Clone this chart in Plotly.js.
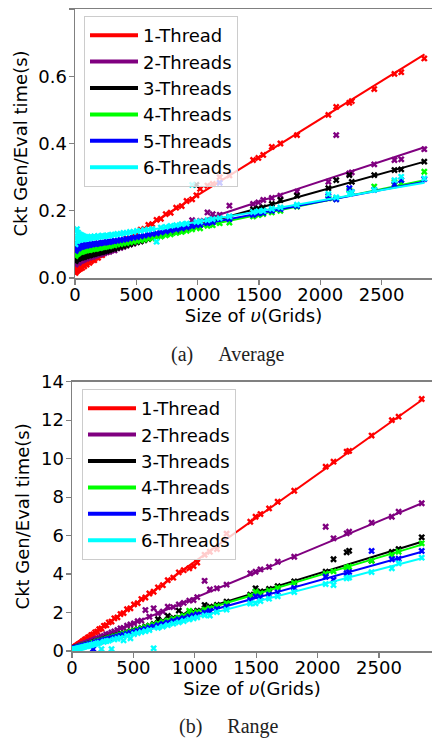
<!DOCTYPE html>
<html>
<head>
<meta charset="utf-8">
<script src="https://cdn.plot.ly/plotly-3.0.1.min.js"></script>
<style>html,body{margin:0;padding:0;background:#fff}#chart{width:432px;height:740px}</style>
</head>
<body>
<div id="chart"></div>
<script>
// Shared circuit sizes (Size of v in grids)
const gridSizes = [4, 8, 12, 16, 20, 25, 30, 36, 42, 50, 58, 66, 75, 85, 95, 106, 118, 130, 143, 157,
  172, 188, 205, 222, 240, 260, 280, 300, 322, 345, 370, 395, 420, 448, 476, 505, 535, 565, 598, 630,
  665, 700, 740, 780, 825, 870, 910, 955,
  990, 1020, 1080, 1123, 1180, 1259, 1452, 1495, 1535, 1605, 1675, 1810, 2066, 2130, 2237, 2257, 2440, 2605, 2660, 2848];

const seriesNames = ['1-Thread', '2-Threads', '3-Threads', '4-Threads', '5-Threads', '6-Threads'];

// (a) Average time (s)
const avg1 = [0.015, 0.03, 0.02, 0.035, 0.022, 0.03, 0.025, 0.033, 0.027, 0.034, 0.03, 0.038, 0.035, 0.042, 0.04, 0.047, 0.045, 0.05, 0.054, 0.053,
  0.061, 0.06, 0.068, 0.068, 0.077, 0.077, 0.086, 0.086, 0.095, 0.096, 0.107, 0.106, 0.118, 0.119, 0.131, 0.132, 0.144, 0.146, 0.158, 0.16,
  0.173, 0.176, 0.19, 0.194, 0.209, 0.214, 0.229, 0.234,
  0.246, 0.265, 0.275, 0.28, 0.30, 0.305, 0.351, 0.357, 0.366, 0.39, 0.40, 0.425, 0.485, 0.509, 0.521, 0.526, 0.562, 0.607, 0.612, 0.653];
const avg2 = [0.04, 0.052, 0.045, 0.055, 0.048, 0.05, 0.045, 0.056, 0.05, 0.055, 0.052, 0.058, 0.055, 0.06, 0.058, 0.062, 0.061, 0.064, 0.063, 0.066,
  0.067, 0.07, 0.07, 0.073, 0.074, 0.077, 0.078, 0.082, 0.082, 0.088, 0.09, 0.093, 0.096, 0.1, 0.102, 0.108, 0.109, 0.115, 0.118, 0.121,
  0.126, 0.131, 0.136, 0.141, 0.146, 0.152, 0.156, 0.172,
  0.165, 0.17, 0.195, 0.19, 0.188, 0.215, 0.22, 0.225, 0.232, 0.238, 0.245, 0.257, 0.286, 0.425, 0.311, 0.314, 0.338, 0.351, 0.353, 0.383];
const avg3 = [0.05, 0.06, 0.055, 0.062, 0.058, 0.06, 0.057, 0.063, 0.06, 0.062, 0.061, 0.064, 0.062, 0.066, 0.065, 0.067, 0.067, 0.069, 0.07, 0.071,
  0.073, 0.074, 0.076, 0.077, 0.079, 0.081, 0.083, 0.086, 0.087, 0.09, 0.093, 0.095, 0.098, 0.1, 0.104, 0.106, 0.109, 0.112, 0.116, 0.119,
  0.123, 0.126, 0.13, 0.134, 0.139, 0.143, 0.147, 0.152,
  0.277, 0.158, 0.166, 0.17, 0.176, 0.182, 0.204, 0.207, 0.21, 0.22, 0.232, 0.245, 0.267, 0.291, 0.306, 0.286, 0.306, 0.321, 0.323, 0.346];
const avg4 = [0.065, 0.078, 0.07, 0.08, 0.072, 0.076, 0.074, 0.08, 0.077, 0.079, 0.078, 0.081, 0.08, 0.083, 0.082, 0.084, 0.083, 0.085, 0.085, 0.087,
  0.087, 0.089, 0.089, 0.091, 0.092, 0.094, 0.094, 0.097, 0.097, 0.1, 0.101, 0.103, 0.104, 0.106, 0.108, 0.11, 0.112, 0.114, 0.117, 0.118,
  0.121, 0.123, 0.127, 0.13, 0.134, 0.137, 0.14, 0.145,
  0.15, 0.148, 0.155, 0.157, 0.163, 0.165, 0.183, 0.187, 0.19, 0.195, 0.2, 0.212, 0.237, 0.235, 0.262, 0.255, 0.272, 0.286, 0.282, 0.316];
const avg5 = [0.08, 0.095, 0.085, 0.1, 0.09, 0.094, 0.088, 0.097, 0.092, 0.095, 0.093, 0.097, 0.095, 0.098, 0.096, 0.099, 0.098, 0.1, 0.1, 0.102,
  0.101, 0.103, 0.103, 0.105, 0.105, 0.107, 0.107, 0.109, 0.11, 0.111, 0.113, 0.114, 0.116, 0.118, 0.12, 0.122, 0.124, 0.126, 0.129, 0.131,
  0.133, 0.136, 0.139, 0.142, 0.145, 0.148, 0.151, 0.154,
  0.157, 0.158, 0.163, 0.166, 0.283, 0.175, 0.188, 0.192, 0.194, 0.2, 0.205, 0.214, 0.244, 0.234, 0.267, 0.255, 0.262, 0.279, 0.291, 0.294];
const avg6 = [0.1, 0.14, 0.12, 0.145, 0.11, 0.135, 0.125, 0.13, 0.115, 0.128, 0.118, 0.125, 0.115, 0.122, 0.117, 0.122, 0.118, 0.123, 0.12, 0.124,
  0.121, 0.125, 0.123, 0.126, 0.124, 0.127, 0.126, 0.129, 0.128, 0.131, 0.131, 0.134, 0.134, 0.137, 0.137, 0.14, 0.14, 0.143, 0.144, 0.146,
  0.108, 0.15, 0.152, 0.155, 0.157, 0.16, 0.162, 0.277,
  0.167, 0.168, 0.172, 0.175, 0.178, 0.183, 0.196, 0.199, 0.2, 0.206, 0.21, 0.218, 0.25, 0.24, 0.25, 0.255, 0.262, 0.291, 0.301, 0.296];

// (b) Range of time (s)
const rng1 = [0.12, 0.15, 0.14, 0.18, 0.19, 0.22, 0.23, 0.27, 0.28, 0.34, 0.35, 0.41, 0.43, 0.5, 0.52, 0.6, 0.62, 0.71, 0.73, 0.83,
  0.86, 0.97, 1.01, 1.13, 1.17, 1.31, 1.34, 1.49, 1.53, 1.7, 1.75, 1.92, 1.97, 2.17, 2.22, 2.42, 2.49, 2.7, 2.78, 2.99,
  3.08, 3.31, 3.42, 3.68, 3.81, 4.09, 4.2, 4.3,
  4.42, 4.6, 5.0, 5.16, 5.3, 6.1, 6.72, 6.98, 7.12, 7.41, 7.76, 8.33, 9.58, 9.84, 10.36, 10.4, 11.2, 12.0, 12.18, 13.1];
const rng2 = [0.1, 0.13, 0.12, 0.15, 0.14, 0.17, 0.17, 0.2, 0.2, 0.24, 0.25, 0.29, 0.3, 0.34, 0.35, 0.4, 0.41, 0.46, 0.47, 0.53,
  0.55, 0.6, 0.64, 0.68, 0.74, 0.78, 0.86, 0.89, 0.97, 1.02, 1.09, 1.18, 1.2, 1.32, 1.38, 1.44, 1.55, 1.58, 2.13, 1.78,
  2.22, 1.96, 2.05, 2.3, 2.28, 2.42, 2.5, 2.62,
  2.65, 2.8, 3.65, 3.2, 3.26, 3.45, 4.04, 4.12, 4.24, 4.37, 4.64, 4.9, 6.46, 5.86, 6.12, 6.2, 6.67, 6.98, 7.24, 7.68];
const rng3 = [0.11, 0.12, 0.13, 0.13, 0.14, 0.15, 0.16, 0.17, 0.18, 0.2, 0.21, 0.23, 0.24, 0.27, 0.28, 0.31, 0.33, 0.35, 0.38, 0.41,
  0.43, 0.47, 0.5, 0.53, 0.57, 0.6, 0.65, 0.69, 0.72, 0.78, 0.82, 0.87, 0.92, 0.97, 1.03, 1.09, 1.14, 1.2, 1.27, 1.32,
  1.41, 1.65, 1.55, 1.82, 1.72, 2.1, 1.88, 1.97,
  2.03, 2.1, 2.39, 2.3, 2.4, 2.56, 2.93, 3.26, 3.1, 3.23, 3.37, 3.62, 4.12, 4.77, 5.13, 5.21, 4.7, 5.15, 5.3, 5.91];
const rng4 = [0.1, 0.12, 0.12, 0.13, 0.14, 0.14, 0.15, 0.16, 0.18, 0.19, 0.21, 0.22, 0.24, 0.26, 0.28, 0.3, 0.32, 0.34, 0.37, 0.39,
  0.42, 0.45, 0.49, 0.52, 0.55, 0.59, 0.63, 0.67, 0.71, 0.76, 0.8, 0.85, 0.9, 0.95, 1.0, 1.06, 1.12, 1.17, 1.24, 1.3,
  1.37, 1.43, 1.51, 1.58, 1.67, 1.75, 1.83, 2.09,
  1.98, 2.03, 2.15, 2.22, 2.33, 2.48, 2.86, 3.08, 3.0, 3.14, 3.28, 3.53, 4.02, 4.14, 4.33, 4.38, 4.69, 5.0, 5.16, 5.6];
const rng5 = [0.1, 0.11, 0.12, 0.12, 0.13, 0.14, 0.15, 0.16, 0.17, 0.18, 0.2, 0.21, 0.23, 0.25, 0.27, 0.29, 0.31, 0.33, 0.35, 0.38,
  0.1, 0.43, 0.46, 0.49, 0.52, 0.56, 0.59, 0.63, 0.67, 0.71, 0.75, 0.8, 0.84, 0.89, 0.94, 0.99, 1.04, 1.1, 1.15, 1.21,
  1.27, 1.34, 1.41, 1.48, 1.56, 1.64, 1.71, 1.79,
  1.85, 1.9, 2.0, 2.08, 2.18, 2.31, 2.66, 2.84, 2.8, 2.93, 3.05, 3.28, 3.86, 3.71, 4.05, 4.1, 5.2, 4.77, 4.8, 5.2];
const rng6 = [0.05, 0.06, 0.07, 0.08, 0.08, 0.09, 0.1, 0.11, 0.12, 0.13, 0.15, 0.16, 0.17, 0.19, 0.21, 0.23, 0.25, 0.27, 0.29, 0.31,
  0.34, 0.36, 0.39, 0.42, 0.1, 0.48, 0.51, 0.54, 0.1, 0.6, 0.64, 0.68, 0.55, 0.79, 0.66, 0.88, 0.93, 0.98, 1.03, 1.09,
  0.14, 1.2, 1.27, 1.34, 1.42, 1.49, 1.56, 1.64,
  1.7, 1.75, 1.85, 1.84, 2.02, 2.15, 2.47, 2.48, 2.6, 2.72, 2.84, 3.06, 3.48, 3.43, 3.78, 3.82, 4.1, 4.3, 4.56, 4.85];

// Fitted trend lines (endpoints at these sizes)
const fitSizes = [0, 2850];
const avgFit1 = [0.02, 0.665];
const avgFit2 = [0.047, 0.389];
const avgFit3 = [0.055, 0.346];
const avgFit4 = [0.075, 0.291];
const avgFit5 = [0.088, 0.286];
const avgFit6 = [0.105, 0.283];
const rngFit1 = [0.1, 13.05];
const rngFit2 = [0.1, 7.68];
const rngFit3 = [0.1, 5.68];
const rngFit4 = [0.1, 5.53];
const rngFit5 = [0.1, 5.16];
const rngFit6 = [0.05, 4.82];

const yTicksA = [0, 0.2, 0.4, 0.6, 0.8];
const yTickTextA = ['0.0', '0.2', '0.4', '0.6', '0.8'];
const yTicksB = [0, 2, 4, 6, 8, 10, 12, 14];
const xTicks = [0, 500, 1000, 1500, 2000, 2500];

const colors = ['#ff0000', '#800080', '#000000', '#00ff00', '#0000ff', '#00ffff'];
const avgData = [avg1, avg2, avg3, avg4, avg5, avg6];
const rngData = [rng1, rng2, rng3, rng4, rng5, rng6];
const avgFits = [avgFit1, avgFit2, avgFit3, avgFit4, avgFit5, avgFit6];
const rngFits = [rngFit1, rngFit2, rngFit3, rngFit4, rngFit5, rngFit6];

const traces = [];
function addPanel(dataSets, fits, xa, ya, leg) {
  for (let i = 0; i < 6; i++) {
    traces.push({x: gridSizes, y: dataSets[i], xaxis: xa, yaxis: ya, mode: 'markers', type: 'scatter',
      marker: {symbol: 'x', size: 6, color: colors[i], line: {width: 0}}, showlegend: false, hoverinfo: 'skip'});
    traces.push({x: fitSizes, y: fits[i], xaxis: xa, yaxis: ya, mode: 'lines', type: 'scatter',
      line: {color: colors[i], width: 2}, showlegend: false, hoverinfo: 'skip'});
  }
  for (let i = 0; i < 6; i++) {
    traces.push({x: [null], y: [null], xaxis: xa, yaxis: ya, mode: 'lines', type: 'scatter', name: seriesNames[i],
      legend: leg, legendgroup: leg + i, line: {color: colors[i], width: 4}, showlegend: true});
  }
}
addPanel(avgData, avgFits, 'x', 'y', 'legend');
addPanel(rngData, rngFits, 'x2', 'y2', 'legend2');

const W = 432, H = 740;
const font = {family: 'DejaVu Sans', size: 18, color: '#000'};
const axisCommon = {
  showline: true, linecolor: '#808080', linewidth: 1.5, ticks: 'outside', ticklen: 5, tickwidth: 1.2,
  tickcolor: '#808080', showgrid: false, zeroline: false, tickfont: font
};
const xAxisCommon = Object.assign({}, axisCommon, {ticklabelstandoff: -5, mirror: true, tickvals: xTicks,
  title: {text: 'Size of <i>υ</i>(Grids)', font: font, standoff: 0}});
const yAxisCommon = Object.assign({}, axisCommon, {ticklabelstandoff: -2,
  title: {text: 'Ckt Gen/Eval time(s)', font: font, standoff: 6}});
const legendCommon = {
  bgcolor: 'rgba(255,255,255,0.8)', bordercolor: '#cccccc', borderwidth: 1, font: font,
  xanchor: 'left', yanchor: 'top', tracegroupgap: 0, itemwidth: 48
};
const capFont = {family: 'Liberation Serif', size: 20, color: '#222'};

const layout = {
  width: W, height: H, margin: {l: 0, r: 0, t: 0, b: 0}, paper_bgcolor: '#fff', plot_bgcolor: '#fff',
  font: font,
  xaxis: Object.assign({}, xAxisCommon, {domain: [75 / W, 1], range: [0, 2911], anchor: 'y'}),
  yaxis: Object.assign({}, yAxisCommon, {domain: [1 - 278 / H, 1 - 9 / H], range: [0, 0.8], anchor: 'x',
    tickvals: yTicksA, ticktext: yTickTextA}),
  xaxis2: Object.assign({}, xAxisCommon, {domain: [72 / W, 1], range: [0, 2932], anchor: 'y2'}),
  yaxis2: Object.assign({}, yAxisCommon, {domain: [1 - 651 / H, 1 - 381.7 / H], range: [0, 14], anchor: 'x2',
    tickvals: yTicksB}),
  legend: Object.assign({}, legendCommon, {x: 84 / W, y: 1 - 16 / H}),
  legend2: Object.assign({}, legendCommon, {x: 82 / W, y: 1 - 389 / H}),
  annotations: [
    {text: '(a)\u00a0\u00a0\u00a0\u00a0\u00a0Average', xref: 'paper', yref: 'paper', x: 228 / W, y: 1 - 354 / H,
      showarrow: false, xanchor: 'center', yanchor: 'middle', font: capFont},
    {text: '(b)\u00a0\u00a0\u00a0\u00a0\u00a0Range', xref: 'paper', yref: 'paper', x: 229 / W, y: 1 - 726 / H,
      showarrow: false, xanchor: 'center', yanchor: 'middle', font: capFont}
  ]
};

Plotly.newPlot('chart', traces, layout, {staticPlot: true, displayModeBar: false});
</script>
</body>
</html>
